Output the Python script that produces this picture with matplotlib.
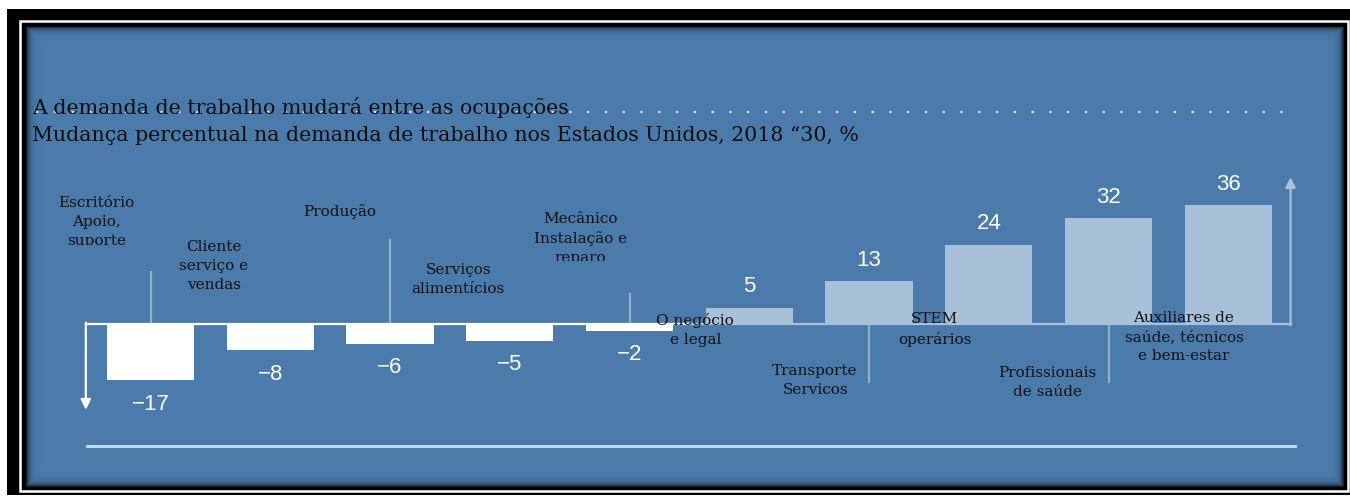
import numpy as np
import matplotlib.pyplot as plt
from matplotlib.patches import Rectangle
from matplotlib.transforms import Bbox, TransformedBbox

# percent change in labour demand by occupation group, 2018-30
categories = ['Escritório\nApoio,\nsuporte', 'Cliente\nserviço e\nvendas', 'Produção',
              'Serviços\nalimentícios', 'Mecânico\nInstalação e\nreparo', 'O negócio\ne legal',
              'Transporte\nServicos', 'STEM\noperários', 'Profissionais\nde saúde',
              'Auxiliares de\nsaúde, técnicos\ne bem-estar']
values = np.array([-17, -8, -6, -5, -2, 5, 13, 24, 32, 36])
value_labels = ['\u221217', '\u22128', '\u22126', '\u22125', '\u22122', '5', '13', '24', '32', '36']

# where each category label sits (bar index offset, value units)
label_x = [-0.45, 0.53, 1.58, 2.57, 3.59, 4.55, 5.55, 6.55, 7.49, 8.63]
label_y = [30.9, 17.6, 34.2, 13.5, 26.0, -1.7, -17.1, -1.7, -17.6, -3.9]
# leader lines: bar index -> end of the line in value units
leaders = {0: 15.8, 2: 25.5, 4: 9.1, 6: -17.6, 8: -17.6}

title1 = 'A demanda de trabalho mudará entre as ocupações'
title2 = 'Mudança percentual na demanda de trabalho nos Estados Unidos, 2018 \u201c30, %'

W, H = 1350, 498
BLUE = '#4a7bab'
POS = '#a8c1d8'
NEG = '#ffffff'
LEAD = '#8fb0cd'


def fx(px):
    return px / W


def fy(py):
    return 1 - py / H


fig = plt.figure(figsize=(13.5, 4.98), dpi=100, facecolor='white')

# frame: thick black border with a thin white rule inside
fig.patches.append(Rectangle((fx(7), fy(495)), fx(1350 - 7), (495 - 9) / H,
                             transform=fig.transFigure, facecolor='black', edgecolor='none',
                             zorder=-3))
fig.patches.append(Rectangle((fx(19.5), fy(491)), fx(1348 - 19.5), (491 - 21) / H,
                             transform=fig.transFigure, facecolor='none', edgecolor='white',
                             linewidth=1.8, zorder=-2))

ax = fig.add_axes([fx(26), fy(487), fx(1344 - 26), (487 - 27) / H])
ax.set_zorder(1)
ax.set_facecolor(BLUE)
ax.set_axis_off()
ax.add_patch(Rectangle((0, 0), 1, 1, transform=ax.transAxes, facecolor=BLUE,
                       edgecolor='none', zorder=0))

# inner shadow along the panel edges
pw, ph = 1318, 460
xx = np.arange(pw)[None, :]
yy = np.arange(ph)[:, None]
d = np.minimum(np.minimum(xx, pw - 1 - xx), np.minimum(yy, ph - 1 - yy)).astype(float)
shade = np.zeros((ph, pw, 4))
shade[..., 3] = 0.75 * np.exp(-d / 3.0)
ax.imshow(shade, extent=[0, 1, 0, 1], transform=ax.transAxes, aspect='auto', zorder=0.5,
          interpolation='bilinear')
ax.set_xlim(-1.0397, 9.9666)
ax.set_ylim(-49.39, 90.0)

x = np.arange(len(values))
colors = [NEG if v < 0 else POS for v in values]
ax.bar(x, values, width=0.73, color=colors, zorder=2)

# baseline with arrows at both ends
ax.plot([-0.54, 4.5], [0, 0], color=NEG, lw=1.6, zorder=1.5)
ax.plot([4.5, 9.52], [0, 0], color=POS, lw=1.6, zorder=1.5)
ax.annotate('', xy=(-0.54, -26), xytext=(-0.54, 0.4),
            arrowprops=dict(arrowstyle='-|>,head_length=0.6,head_width=0.3', color=NEG,
                            lw=1.6, shrinkA=0, shrinkB=0))
ax.annotate('', xy=(9.52, 44.5), xytext=(9.52, -0.4),
            arrowprops=dict(arrowstyle='-|>,head_length=0.6,head_width=0.3', color=POS,
                            lw=1.6, shrinkA=0, shrinkB=0))

for i, end in leaders.items():
    ax.plot([i, i], [0, end], color=LEAD, lw=1.6, zorder=1)

# bottom rule
ax.plot([-0.53, 9.56], [-37, -37], color='#d3dfeb', lw=2, zorder=1)

for i, v in enumerate(values):
    off = 21 if v > 0 else -24
    ax.annotate(value_labels[i], (i, v), xytext=(0, off), textcoords='offset pixels',
                ha='center', va='center', color='white', fontsize=16,
                family=['Liberation Sans', 'DejaVu Sans'], zorder=3)

# the third line of these two labels is cut off at the bottom
clip_tops = {0: 245, 4: 261}
for i, lab in enumerate(categories):
    t = ax.text(label_x[i], label_y[i], lab, ha='center', va='center', fontsize=11,
                family='DejaVu Serif', color='#111111', linespacing=1.45, zorder=4)
    if i in clip_tops:
        box = Bbox([[0, fy(clip_tops[i])], [1, 1]])
        t.set_clip_box(TransformedBbox(box, fig.transFigure))
        t.set_clip_on(True)

# dotted rule behind the heading
ax.plot([(36 - 26) / (1344 - 26), (1285 - 26) / (1344 - 26)],
        [(487 - 112) / (487 - 27)] * 2, transform=ax.transAxes,
        color='#e4ebf2', lw=1.6, linestyle=(0, (1, 7)), dash_capstyle='butt', zorder=3)
ax.text((32 - 26) / (1344 - 26), (487 - 108) / (487 - 27), title1, transform=ax.transAxes,
        ha='left', va='center', fontsize=14.8, family='DejaVu Serif', color='#0d0d0d', zorder=4)
ax.text((32 - 26) / (1344 - 26), (487 - 135) / (487 - 27), title2, transform=ax.transAxes,
        ha='left', va='center', fontsize=14.8, family='DejaVu Serif', color='#0d0d0d', zorder=4)

fig.savefig('out.png', dpi=100, facecolor=fig.get_facecolor())
